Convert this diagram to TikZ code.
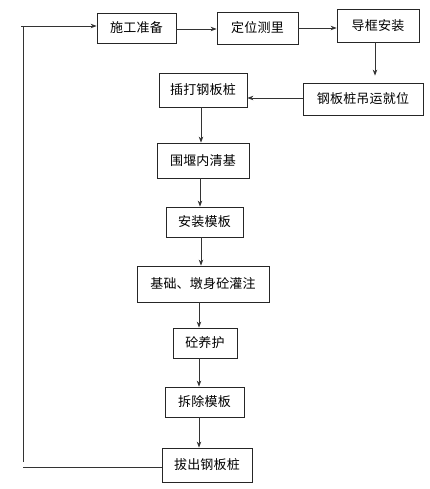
\documentclass[tikz,border=0pt]{standalone}
\usepackage{fontspec}
\newfontfamily\cjk[LetterSpace=1.5]{Noto Sans CJK SC}
\usetikzlibrary{arrows.meta}
\begin{document}
\begin{tikzpicture}[x=1pt,y=-1pt,
  box/.style={draw=black!85,line width=0.8pt,inner sep=0pt,font=\cjk\fontsize{13}{15}\selectfont,text=black},
  arr/.style={draw=black!80,line width=0.8pt,-{Stealth[length=6pt,width=4.5pt]}},
  ln/.style={draw=black!80,line width=0.8pt}]
\useasboundingbox (0,0) rectangle (430,489);
\node[box,minimum width=79pt,minimum height=30pt] (a) at (136.5,28) {施工准备};
\node[box,minimum width=81pt,minimum height=32pt] (b) at (257.5,28) {定位测里};
\node[box,minimum width=82pt,minimum height=33pt] (c) at (378,25.5) {导框安装};
\node[box,minimum width=120pt,minimum height=32pt] (d) at (363,99) {钢板桩吊运就位};
\node[box,minimum width=88pt,minimum height=34pt] (e) at (203,90) {插打钢板桩};
\node[box,minimum width=92pt,minimum height=35pt] (f) at (203,160.5) {围堰内清基};
\node[box,minimum width=77pt,minimum height=30pt] (g) at (204.5,222) {安装模板};
\node[box,minimum width=132pt,minimum height=36pt] (h) at (203,284) {基础、墩身砼灌注};
\node[box,minimum width=64pt,minimum height=30pt] (i) at (205,343) {砼养护};
\node[box,minimum width=79pt,minimum height=30pt] (j) at (204.5,402) {拆除模板};
\node[box,minimum width=90pt,minimum height=34pt] (k) at (207,465) {拔出钢板桩};
\coordinate (cx) at (375,0);
\coordinate (c1) at (201,0);
\coordinate (c2) at (200,0);
\coordinate (c3) at (199,0);
\coordinate (L) at (23,0);
\coordinate (L0) at (21,0);
\draw[arr] ([yshift=-1pt]a.east) -- ([yshift=-1pt]a.east -| b.west);
\draw[arr] (b.east) -- (b.east -| c.west);
\draw[arr,shorten >=7pt] (c.south -| cx) -- (d.north -| cx);
\draw[arr] ([yshift=1pt]d.west) -- ([yshift=1pt]d.west -| e.east);
\draw[arr] (e.south -| c1) -- (f.north -| c1);
\draw[arr] (f.south -| c2) -- (g.north -| c2);
\draw[arr] (g.south -| c1) -- (h.north -| c1);
\draw[arr] (h.south -| c3) -- (i.north -| c3);
\draw[arr] (i.south -| c3) -- (j.north -| c3);
\draw[arr] (j.south -| c3) -- (k.north -| c3);
\draw[ln] ([yshift=-2pt]k.west) -- ([yshift=-2pt]k.west -| L);
\draw[ln] ([yshift=3pt]k.west -| L) -- ([yshift=2pt]a.west -| L);
\draw[arr] ([yshift=2pt]a.west -| L0) -- ([yshift=2pt]a.west);
\end{tikzpicture}
\end{document}
